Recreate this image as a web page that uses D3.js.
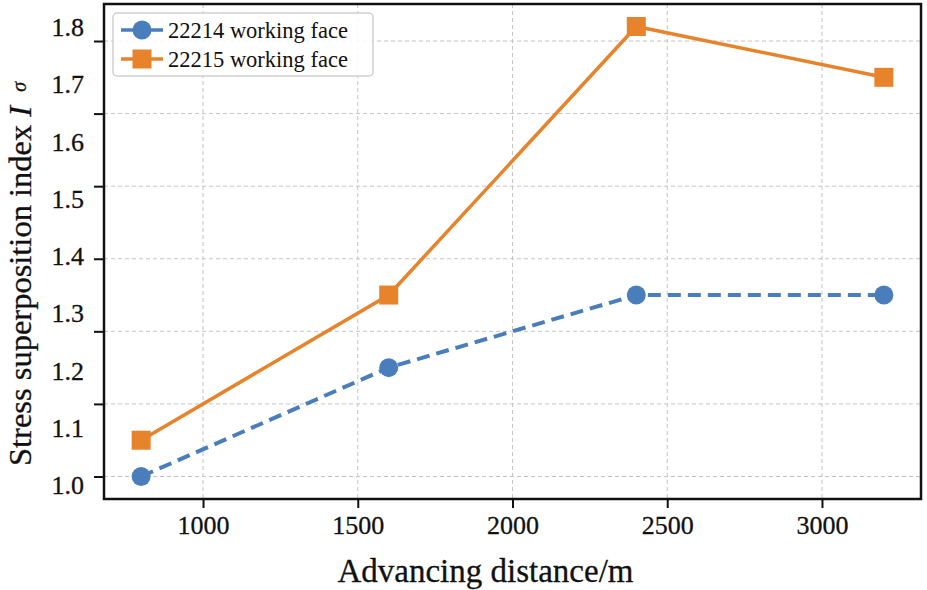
<!DOCTYPE html>
<html>
<head>
<meta charset="utf-8">
<script src="https://cdn.jsdelivr.net/npm/d3@7"></script>
<style>
  body { margin: 0; background: #fff; }
  text { font-family: "Liberation Serif", "Times New Roman", serif; fill: #111; }
</style>
</head>
<body>
<div id="chart"></div>
<script>
// data
const distances = [800, 1600, 2400, 3200];
const face22214 = [1.0, 1.15, 1.25, 1.25];
const face22215 = [1.05, 1.25, 1.62, 1.55];
const seriesNames = ["22214 working face", "22215 working face"];
const gridTicksY = [1.0, 1.1, 1.2, 1.3, 1.4, 1.5, 1.6];
const labelTicksY = [1.0, 1.1, 1.2, 1.3, 1.4, 1.5, 1.6, 1.7, 1.8];
const ticksX = [1000, 1500, 2000, 2500, 3000];

const width = 927, height = 590;
const margin = { top: 4, right: 6, bottom: 91, left: 104 };
const innerW = width - margin.left - margin.right;
const innerH = height - margin.top - margin.bottom;

const blue = "#4a7dbc", orange = "#e6832b";

const svg = d3.select("#chart").append("svg")
    .attr("width", width)
    .attr("height", height);

const g = svg.append("g")
    .attr("transform", `translate(${margin.left},${margin.top})`);

const x = d3.scaleLinear().domain([680, 3320]).range([0, innerW]);
const y = d3.scaleLinear().domain([0.969, 1.651]).range([innerH, 0]);

// the printed tick labels sit on their own evenly spaced scale
const yLabel = d3.scaleLinear().domain([1.0, 1.8]).range([y(0.9876), y(1.619)]);

// grid
g.append("g").selectAll("line").data(ticksX).enter().append("line")
    .attr("x1", d => x(d)).attr("x2", d => x(d))
    .attr("y1", 0).attr("y2", innerH)
    .attr("stroke", "#c4c4c4").attr("stroke-width", 1).attr("stroke-dasharray", "4,3");
g.append("g").selectAll("line").data(gridTicksY).enter().append("line")
    .attr("x1", 0).attr("x2", innerW)
    .attr("y1", d => y(d)).attr("y2", d => y(d))
    .attr("stroke", "#c4c4c4").attr("stroke-width", 1).attr("stroke-dasharray", "4,3");

// x axis
const xAxis = g.append("g")
    .attr("transform", `translate(0,${innerH})`)
    .call(d3.axisBottom(x).tickValues(ticksX).tickSize(9).tickPadding(8).tickFormat(d3.format("d")));
xAxis.select(".domain").remove();
xAxis.selectAll("line").attr("stroke", "#111").attr("stroke-width", 2);
xAxis.selectAll("text").style("font-size", "26px").attr("fill", "#111")
    .attr("stroke", "#111").attr("stroke-width", 0.3);

// y tick marks
const yAxis = g.append("g")
    .call(d3.axisLeft(y).tickValues(gridTicksY).tickSize(10).tickFormat(""));
yAxis.select(".domain").remove();
yAxis.selectAll("line").attr("stroke", "#111").attr("stroke-width", 2);

// y tick labels
const yLab = g.append("g")
    .call(d3.axisLeft(yLabel).tickValues(labelTicksY).tickSize(0).tickPadding(20).tickFormat(d3.format(".1f")));
yLab.select(".domain").remove();
yLab.selectAll("text").style("font-size", "26px").attr("fill", "#111")
    .attr("stroke", "#111").attr("stroke-width", 0.3);

// frame
g.append("rect")
    .attr("width", innerW).attr("height", innerH)
    .attr("fill", "none").attr("stroke", "#111").attr("stroke-width", 2.5);

const line = d3.line().x(d => x(d[0])).y(d => y(d[1]));

const s1 = distances.map((d, i) => [d, face22214[i]]);
const s2 = distances.map((d, i) => [d, face22215[i]]);

g.append("path").datum(s1)
    .attr("d", line).attr("fill", "none")
    .attr("stroke", blue).attr("stroke-width", 4).attr("stroke-dasharray", "13,7");
g.append("path").datum(s2)
    .attr("d", line).attr("fill", "none")
    .attr("stroke", orange).attr("stroke-width", 3.5);

g.append("g").selectAll("circle").data(s1).enter().append("circle")
    .attr("cx", d => x(d[0])).attr("cy", d => y(d[1])).attr("r", 9.5)
    .attr("fill", blue);
g.append("g").selectAll("rect").data(s2).enter().append("rect")
    .attr("x", d => x(d[0]) - 9.5).attr("y", d => y(d[1]) - 9.5)
    .attr("width", 19).attr("height", 19)
    .attr("fill", orange);

// legend
const legend = g.append("g").attr("transform", "translate(9,9)");
legend.append("rect")
    .attr("width", 260).attr("height", 63).attr("rx", 4)
    .attr("fill", "#fff").attr("fill-opacity", 0.85)
    .attr("stroke", "#d0d0d0").attr("stroke-width", 1.5);
[blue, orange].forEach((c, i) => {
    const row = legend.append("g").attr("transform", `translate(0,${17 + i * 29})`);
    row.append("line").attr("x1", 8).attr("x2", 50)
        .attr("stroke", c).attr("stroke-width", 3.5);
    if (i === 0) {
        row.append("circle").attr("cx", 29).attr("r", 9.5).attr("fill", c);
    } else {
        row.append("rect").attr("x", 19.5).attr("y", -9.5).attr("width", 19).attr("height", 19).attr("fill", c);
    }
    row.append("text").attr("x", 55).attr("dy", "0.35em")
        .style("font-size", "22.5px").text(seriesNames[i]);
});

// axis titles
svg.append("text")
    .attr("x", margin.left + innerW / 2 - 27).attr("y", 582)
    .attr("text-anchor", "middle")
    .style("font-size", "33px")
    .attr("stroke", "#111").attr("stroke-width", 0.3)
    .text("Advancing distance/m");

const yt = svg.append("text")
    .attr("transform", "translate(31,466) rotate(-90)")
    .attr("text-anchor", "start")
    .style("font-size", "32.5px")
    .attr("stroke", "#111").attr("stroke-width", 0.3);
yt.append("tspan").text("Stress superposition index ");
yt.append("tspan").style("font-style", "italic").text("I");
yt.append("tspan").style("font-style", "italic").style("font-size", "20px").attr("dx", 14).attr("dy", -5).text("σ");
</script>
</body>
</html>
